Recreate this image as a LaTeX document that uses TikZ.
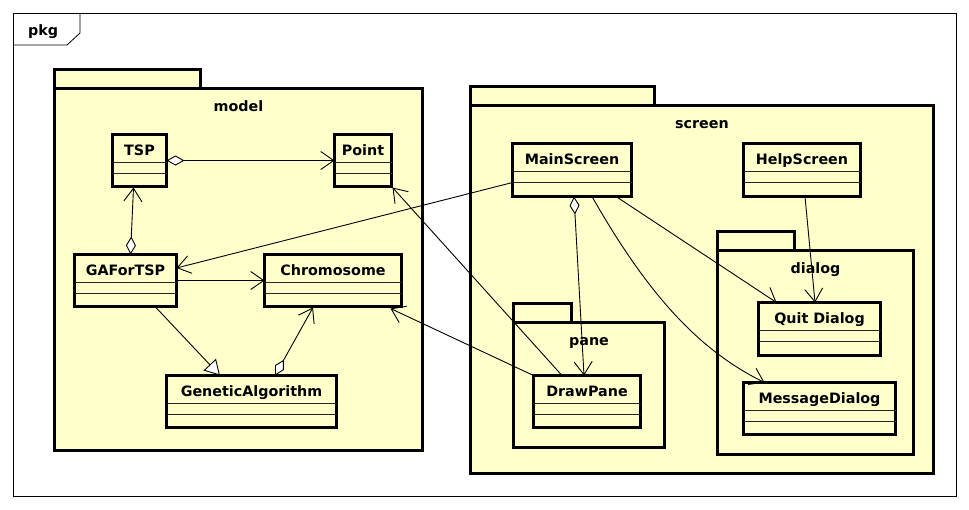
\documentclass[tikz,border=0pt]{standalone}
\usepackage{fontspec}
\setmainfont{DejaVu Sans}
\usetikzlibrary{arrows.meta,calc}
\definecolor{umlfill}{HTML}{FFFFCC}
\tikzset{
  clsbox/.style={draw, line width=3pt, fill=umlfill, inner sep=0pt, outer sep=0pt},
  pkgbox/.style={draw, line width=3pt, fill=umlfill},
  sepline/.style={draw=black!85, line width=0.9pt},
  lbl/.style={font=\fontsize{14.3}{17}\selectfont\bfseries, inner sep=0pt},
  conn/.style={line width=0.9pt},
  dep/.style={conn, -{Straight Barb[length=13pt,width=18pt]}},
  agg/.style={conn, {Diamond[fill=white,length=18pt,width=10pt]}-{Straight Barb[length=13pt,width=18pt]}},
  gen/.style={conn, -{Triangle[fill=white,length=15pt,width=17pt]}},
}
\newcommand\umlclass[6]{%
  \node[clsbox, minimum width={#4-#2-3}, minimum height={#5-#3-3}] (#1) at ({(#2+#4)/2},{(#3+#5)/2}) {};
  \draw[sepline] (#2+1.5,#3+29.5) -- (#4-1.5,#3+29.5);
  \draw[sepline] (#2+1.5,#3+40) -- (#4-1.5,#3+40);
  \node[lbl, anchor=base] (#1-name) at ({(#2+#4)/2},#3+22) {#6};
}
\newcommand\umlpkg[8]{% name, x1, ytab, xtab2, x2, ybody, y2, label
  \draw[pkgbox] (#2+1.5,#6) rectangle (#4-1.5,#3+1.5);
  \draw[pkgbox] (#2+1.5,#6) rectangle (#5-1.5,#7-1.5);
  \node[lbl, anchor=base] (#1) at ({(#2+#5)/2},#6+23) {#8};
}
\begin{document}
\begin{tikzpicture}[x=1pt,y=-1pt]
\useasboundingbox (0,0) rectangle (969,509);
% outer frame
\draw[line width=0.8pt, fill=white] (13,13) rectangle (956,496);
\draw[line width=0.8pt] (13,45) -- (67,45) -- (80,33) -- (80,13);
\node[lbl, anchor=base west] (pkg) at (28,35) {pkg};
% packages
\umlpkg{model}{53}{68}{202}{424}{88}{452}{model}
\umlpkg{screen}{469}{85}{656}{935}{105}{475}{screen}
\umlpkg{dialog}{716}{230}{796}{915}{250}{456}{dialog}
\umlpkg{pane}{512}{302}{573}{666}{322}{449}{pane}
% classes
\umlclass{tsp}{111}{133}{168}{188}{TSP}
\umlclass{point}{333}{133}{393}{188}{Point}
\umlclass{gaft}{73}{253}{178}{308}{GAForTSP}
\umlclass{chrom}{263}{253}{403}{308}{Chromosome}
\umlclass{ga}{165}{374}{338}{429}{GeneticAlgorithm}
\umlclass{ms}{511}{142}{633}{198}{MainScreen}
\umlclass{hs}{742}{142}{862}{198}{HelpScreen}
\umlclass{qd}{757}{301}{882}{357}{Quit Dialog}
\umlclass{md}{742}{381}{897}{436}{MessageDialog}
\umlclass{dp}{532}{374}{642}{429}{DrawPane}
% connectors
\draw[agg] (tsp.east) -- (point.west);
\draw[agg] ($(gaft.north)+(5,0)$) -- ($(tsp.south)+(-6,1)$);
\draw[dep] (gaft.east) -- (chrom.west);
\draw[gen] ($(gaft.south)+(29.5,0)$) -- ($(ga.north)+(-31.5,0)$);
\draw[agg] ($(ga.north)+(23.5,0)$) -- ($(chrom.south)+(-20,1)$);
\draw[dep] ($(ms.south west)+(0,-14)$) -- ($(gaft.east)+(0,-12.5)$);
\draw[dep] ($(dp.north)+(-25,0)$) -- ($(point.south east)+(1,1)$);
\draw[dep] (dp.north west) -- ($(chrom.south east)+(-11,2)$);
\draw[agg] ($(ms.south)+(2,0)$) -- ($(dp.north)+(-3,0)$);
\draw[dep] ($(ms.south)+(20,0)$) .. controls +(58,102) and +(-63,-31) .. ($(md.north west)+(21,0)$);
\draw[dep] ($(ms.south)+(44,0)$) -- ($(qd.north west)+(18,0)$);
\draw[dep] ($(hs.south)+(3,0)$) -- ($(qd.north)+(-4.5,0)$);
\end{tikzpicture}
\end{document}
